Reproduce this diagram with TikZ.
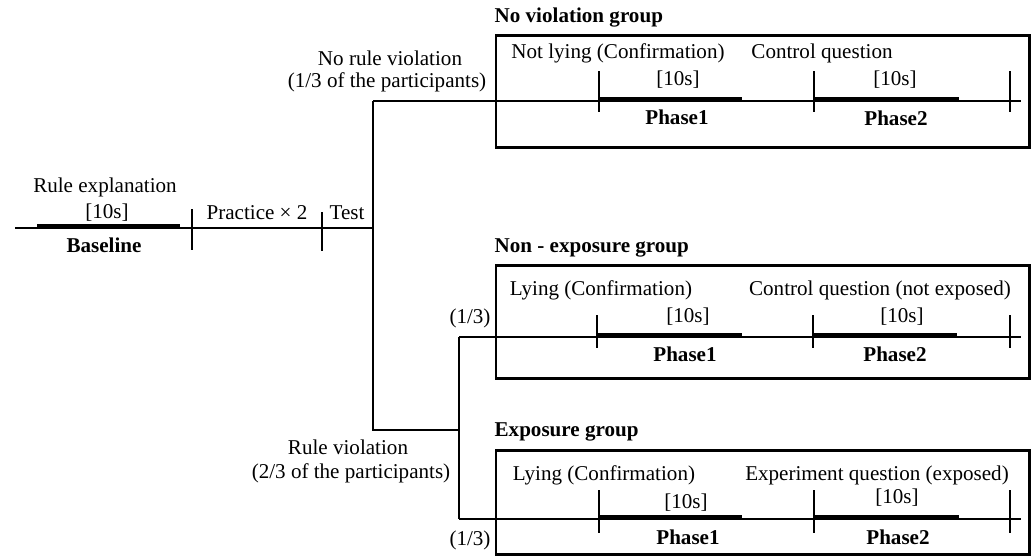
\documentclass[tikz,border=0pt]{standalone}
\usepackage{fontspec}
\setmainfont{Liberation Serif}
\tikzset{
    lbl/.style={font=\fontsize{12}{14}\selectfont, inner sep=0pt},
    phase/.style={font=\fontsize{12}{14}\selectfont\bfseries, inner sep=0pt},
    grp/.style={phase, anchor=west},
    bar/.style={line width=2.4pt},
    frame/.style={line width=1.7pt}
}
\begin{document}
\begin{tikzpicture}[x=0.02cm, y=-0.02cm, line width=0.75pt]
    \useasboundingbox (0,0) rectangle (1035,556);
    % baseline and practice
    \coordinate (start) at (15,228);
    \coordinate (split) at (373,228);
    \draw (start) -- (split);
    \draw [bar] (37,226.5) -- (180,226.5);
    \draw (192,209) -- (192,250);
    \draw (322,212) -- (322,251);
    \node (rule) [lbl] at (105,187) {Rule explanation};
    \node (base10) [lbl] at (107,213) {[10s]};
    \node (base) [phase] at (104,245) {Baseline};
    \node (prac) [lbl] at (257,213) {Practice × 2};
    \node (test) [lbl] at (347,213) {Test};
    % branches
    \coordinate (up) at (373,101);
    \coordinate (down) at (373,430);
    \coordinate (fork) at (459,430);
    \coordinate (mid) at (459,337);
    \coordinate (low) at (459,519);
    \coordinate (endA) at (1021,101);
    \coordinate (endB) at (1021,337);
    \coordinate (endC) at (1021,519);
    \draw (up) -- (down) -- (fork);
    \draw (mid) -- (low);
    \draw (up) -- (endA);
    \draw (mid) -- (endB);
    \draw (low) -- (endC);
    \node (norule) [lbl] at (390,58) {No rule violation};
    \node (noshare) [lbl] at (387,82) {(1/3 of the participants)};
    \node (yesrule) [lbl] at (348,447) {Rule violation};
    \node (yesshare) [lbl] at (351,473) {(2/3 of the participants)};
    \node (midshare) [lbl] at (470,318) {(1/3)};
    \node (lowshare) [lbl] at (470,540) {(1/3)};
    % no violation group
    \draw [frame] (496,35) rectangle (1029,147);
    \node (nvg) [grp] at (494,18) {No violation group};
    \draw [bar] (599,99) -- (742,99);
    \draw [bar] (814,99) -- (959,99);
    \foreach \t in {599,814,1010}
        \draw (\t,71) -- (\t,112);
    \node (nvq1) [lbl] at (618,53) {Not lying (Confirmation)};
    \node (nvq2) [lbl] at (822,53) {Control question};
    \node (nvs1) [lbl] at (678,80) {[10s]};
    \node (nvs2) [lbl] at (895,80) {[10s]};
    \node (nvp1) [phase] at (677,117) {Phase1};
    \node (nvp2) [phase] at (896,118) {Phase2};
    % non-exposure group
    \draw [frame] (496,265) rectangle (1029,378);
    \node (neg) [grp] at (494,248) {Non - exposure group};
    \draw [bar] (597,335) -- (742,335);
    \draw [bar] (813,335) -- (957,335);
    \foreach \t in {597,813,1010}
        \draw (\t,315) -- (\t,348);
    \node (neq1) [lbl] at (601,290) {Lying (Confirmation)};
    \node (neq2) [lbl] at (880,290) {Control question (not exposed)};
    \node (nes1) [lbl] at (688,317) {[10s]};
    \node (nes2) [lbl] at (902,317) {[10s]};
    \node (nep1) [phase] at (685,354) {Phase1};
    \node (nep2) [phase] at (895,354) {Phase2};
    % exposure group
    \draw [frame] (496,450) rectangle (1029,554);
    \node (exg) [grp] at (494,432) {Exposure group};
    \draw [bar] (599,517) -- (742,517);
    \draw [bar] (814,517) -- (959,517);
    \foreach \t in {599,814,1010}
        \draw (\t,490) -- (\t,533);
    \node (exq1) [lbl] at (604,475) {Lying (Confirmation)};
    \node (exq2) [lbl] at (877,475) {Experiment question (exposed)};
    \node (exs1) [lbl] at (686,503) {[10s]};
    \node (exs2) [lbl] at (897,498) {[10s]};
    \node (exp1) [phase] at (688,537) {Phase1};
    \node (exp2) [phase] at (898,537) {Phase2};
\end{tikzpicture}
\end{document}
